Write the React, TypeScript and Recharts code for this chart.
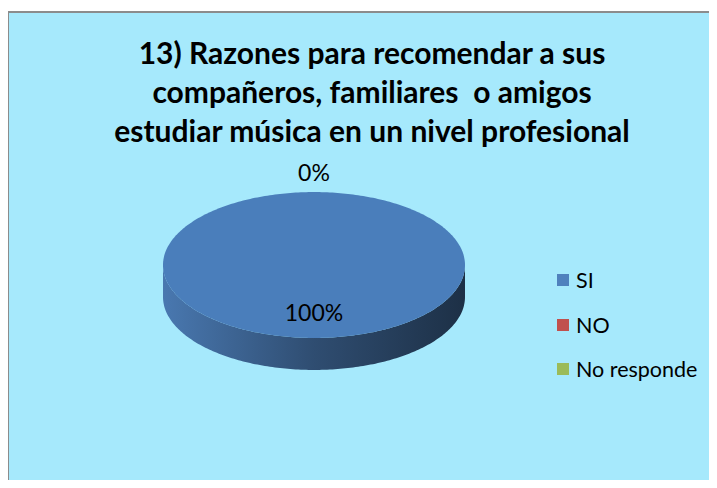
import React from 'react';
import { PieChart, Pie, Legend } from 'recharts';

const categories = ['SI', 'NO', 'No responde'];
const values = [100, 0, 0];
const colors = ['#4F81BD', '#C0504D', '#9BBB59'];
const topColors = ['#4A7EBB', '#BE4B48', '#98B954'];
const titleLines = [
  '13) Razones para recomendar a sus',
  'compañeros, familiares  o amigos',
  'estudiar música en un nivel profesional',
];

const data = categories.map((name, i) => ({ name, value: values[i], fill: colors[i], top: topColors[i] }));

const FONT = 'Lato, "Open Sans", sans-serif';
const CX = 314;
const CY = 265;
const R = 151;
const RATIO = 0.483;
const DEPTH = 32;
const RAD = Math.PI / 180;

function shade(hex: string, f: number) {
  const n = parseInt(hex.slice(1), 16);
  const r = Math.round(((n >> 16) & 255) * f);
  const g = Math.round(((n >> 8) & 255) * f);
  const b = Math.round((n & 255) * f);
  return `rgb(${r},${g},${b})`;
}

function EllipseSector(props: any) {
  const { cx, cy, outerRadius, startAngle, endAngle, index } = props;
  if (Math.abs(endAngle - startAngle) < 1e-6) return null;
  const entry = data[index] || data[0];
  const rx = outerRadius;
  const ry = outerRadius * RATIO;
  const steps = Math.max(2, Math.ceil(Math.abs(endAngle - startAngle)));
  const angles: number[] = [];
  for (let i = 0; i <= steps; i++) angles.push(startAngle + ((endAngle - startAngle) * i) / steps);
  const pt = (a: number, dy = 0) => [cx + rx * Math.cos(a * RAD), cy - ry * Math.sin(a * RAD) + dy];
  const full = Math.abs(endAngle - startAngle) >= 359.999;
  let top = full ? '' : `M${cx},${cy} `;
  angles.forEach((a, i) => {
    const [x, y] = pt(a);
    top += (i === 0 && full ? 'M' : 'L') + x.toFixed(2) + ',' + y.toFixed(2) + ' ';
  });
  top += 'Z';
  const runs: number[][] = [];
  let cur: number[] = [];
  angles.forEach((a) => {
    if (Math.sin(a * RAD) <= 1e-9) cur.push(a);
    else {
      if (cur.length > 1) runs.push(cur);
      cur = [];
    }
  });
  if (cur.length > 1) runs.push(cur);
  const gid = `side-grad-${index}`;
  return (
    <g>
      <defs>
        <linearGradient id={gid} x1="0" y1="0" x2="1" y2="0">
          <stop offset="0" stopColor={shade(entry.fill, 0.93)} />
          <stop offset="0.5" stopColor={shade(entry.fill, 0.6)} />
          <stop offset="1" stopColor={shade(entry.fill, 0.37)} />
        </linearGradient>
      </defs>
      {runs.map((run, k) => {
        let d = '';
        run.forEach((a, i) => {
          const [x, y] = pt(a);
          d += (i === 0 ? 'M' : 'L') + x.toFixed(2) + ',' + y.toFixed(2) + ' ';
        });
        for (let i = run.length - 1; i >= 0; i--) {
          const [x, y] = pt(run[i], DEPTH);
          d += 'L' + x.toFixed(2) + ',' + y.toFixed(2) + ' ';
        }
        d += 'Z';
        return <path key={k} d={d} fill={`url(#${gid})`} stroke="none" />;
      })}
      <path d={top} fill={entry.top} stroke="none" />
    </g>
  );
}

const firstZero = values.findIndex((v) => v === 0);

function renderLabel(p: any) {
  const { midAngle, percent, index } = p;
  if (percent === 0 && index !== firstZero) return null;
  const rx = R;
  const ry = R * RATIO;
  let x: number;
  let y: number;
  if (percent === 0) {
    x = CX + (rx + 20) * Math.cos(midAngle * RAD);
    y = CY - (ry + 20) * Math.sin(midAngle * RAD);
  } else {
    x = CX + rx * 0.64 * Math.cos(midAngle * RAD);
    y = CY - ry * 0.64 * Math.sin(midAngle * RAD);
  }
  return (
    <text key={`lbl-${index}`} x={x} y={y} textAnchor="middle" dominantBaseline="central" fontFamily={FONT} fontSize={23} fill="#000">
      {`${Math.round(percent * 100)}%`}
    </text>
  );
}

function renderLegend() {
  return (
    <div style={{ fontFamily: FONT, fontSize: 21.5, color: '#000' }}>
      {categories.map((name, i) => (
        <div key={i} style={{ display: 'flex', alignItems: 'center', height: 44.5 }}>
          <span style={{ display: 'inline-block', width: 12, height: 12, background: colors[i], marginRight: 7 }} />
          <span>{name}</span>
        </div>
      ))}
    </div>
  );
}

export default function App() {
  return (
    <div style={{ position: 'relative', width: 717, height: 488, margin: -8, overflow: 'hidden', background: '#fff' }}>
      <div
        style={{
          position: 'absolute',
          left: 7,
          top: 11,
          width: 720,
          height: 490,
          background: '#A6E9FC',
          border: '2px solid #8C8C8C',
          boxSizing: 'border-box',
        }}
      />
      {titleLines.map((t, i) => (
        <div
          key={i}
          style={{
            position: 'absolute',
            left: 0,
            width: 744,
            top: 52 + i * 39 - 20,
            height: 40,
            lineHeight: '40px',
            textAlign: 'center',
            fontFamily: FONT,
            fontWeight: 700,
            fontSize: 30,
            whiteSpace: 'pre',
            color: '#000',
          }}
        >
          {t}
        </div>
      ))}
      <div style={{ position: 'absolute', left: 0, top: 0 }}>
        <PieChart width={717} height={488} margin={{ top: 0, right: 0, bottom: 0, left: 0 }}>
          <Pie
            data={data}
            dataKey="value"
            nameKey="name"
            cx={CX}
            cy={CY}
            outerRadius={R}
            startAngle={90}
            endAngle={-270}
            stroke="none"
            isAnimationActive={false}
            labelLine={false}
            label={renderLabel}
            shape={EllipseSector}
          />
          <Legend
            layout="vertical"
            itemSorter={null as any}
            content={renderLegend}
            wrapperStyle={{ position: 'absolute', left: 557, top: 258, width: 160 }}
          />
        </PieChart>
      </div>
    </div>
  );
}
